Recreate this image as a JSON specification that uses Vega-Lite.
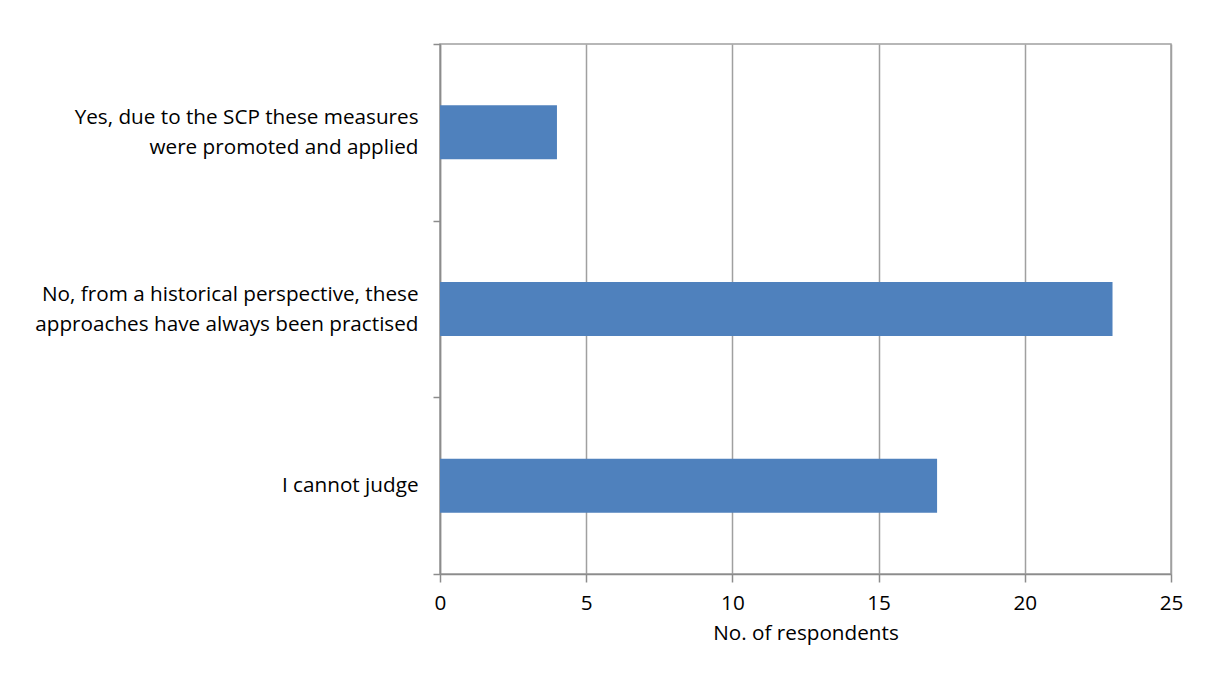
{
  "$schema": "https://vega.github.io/schema/vega-lite/v6.json",
  "autosize": "none",
  "width": 731,
  "height": 530,
  "padding": {"left": 440, "top": 44, "right": 36, "bottom": 125},
  "background": "white",
  "config": {
    "font": "Open Sans",
    "view": {"stroke": "#a0a0a0", "strokeWidth": 1.5},
    "axis": {
      "domainColor": "#8c8c8c",
      "domainWidth": 1.5,
      "tickColor": "#8c8c8c",
      "tickWidth": 1.5,
      "labelFont": "Open Sans",
      "labelFontSize": 20.7,
      "labelColor": "#000000",
      "titleFont": "Open Sans",
      "titleFontSize": 20.7,
      "titleFontWeight": "normal",
      "titleColor": "#000000"
    }
  },
  "data": {
    "values": [
      {"answer": "Yes, due to the SCP these measures\nwere promoted and applied", "respondents": 4},
      {"answer": "No, from a historical perspective, these\napproaches have always been practised", "respondents": 23},
      {"answer": "I cannot judge", "respondents": 17}
    ]
  },
  "mark": {"type": "bar", "color": "#4f81bd", "height": {"band": 0.306}},
  "encoding": {
    "y": {
      "field": "answer",
      "type": "nominal",
      "sort": null,
      "scale": {"paddingInner": 0, "paddingOuter": 0},
      "axis": {
        "title": null,
        "tickBand": "extent",
        "tickSize": 7,
        "labelPadding": 15,
        "labelLineHeight": 30,
        "labelExpr": "split(datum.label, '\\n')",
        "labelLimit": 0,
        "labelOffset": {
          "condition": {"test": "datum.value != 'I cannot judge'", "value": -15},
          "value": 0
        },
        "grid": false
      }
    },
    "x": {
      "field": "respondents",
      "type": "quantitative",
      "scale": {"domain": [0, 25], "nice": false},
      "axis": {
        "title": "No. of respondents",
        "values": [0, 5, 10, 15, 20, 25],
        "tickSize": 8,
        "labelFlush": false,
        "labelPadding": 11,
        "titlePadding": 11,
        "grid": true,
        "gridColor": "#a0a0a0",
        "gridWidth": 1.5
      }
    }
  }
}
